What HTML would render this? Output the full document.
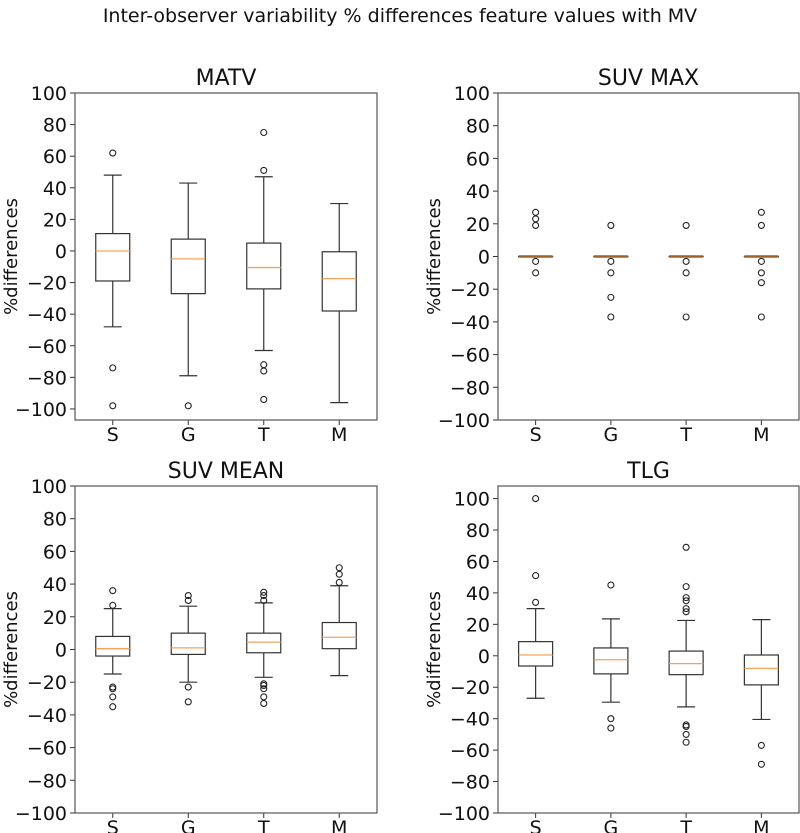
<!DOCTYPE html>
<html><head><meta charset="utf-8"><style>
body{margin:0;background:#fff}
svg{display:block;font-family:"DejaVu Sans","Liberation Sans",sans-serif}
</style></head><body>
<svg id="chart" width="800" height="833" viewBox="0 0 800 833" xmlns="http://www.w3.org/2000/svg">
<text x="400" y="22" font-size="19" text-anchor="middle" fill="#111">Inter-observer variability % differences feature values with MV</text>
</svg>
<script>
const categories = ["S","G","T","M"];
const panelTitles = ["MATV","SUV MAX","SUV MEAN","TLG"];
const yTicks = [100,80,60,40,20,0,-20,-40,-60,-80,-100];
// per panel: [q1, median, q3, whiskerLow, whiskerHigh] for S,G,T,M
const matvStats = [[-19,0,11,-48,48],[-27,-5,7.5,-79,43],[-24,-10.5,5,-63,47],[-38,-17.5,-0.5,-96,30]];
const matvFliers = [[62,-74,-98],[-98],[75,51,-72,-76,-94],[]];
const suvmaxStats = [[0,0,0,0,0],[0,0,0,0,0],[0,0,0,0,0],[0,0,0,0,0]];
const suvmaxFliers = [[27,23,19,-3,-10],[19,-3,-10,-25,-37],[19,-3,-10,-37],[27,19,-3,-10,-16,-37]];
const suvmeanStats = [[-4,0.5,8,-15,25],[-3,1,10,-20,26.5],[-2,4.5,10,-17,28.5],[0.5,7.5,16.5,-16,39]];
const suvmeanFliers = [[36,27,-23,-24,-29,-35],[33,30,-23,-32],[35,33,30,-21,-22,-24,-29,-33],[50,46,41]];
const tlgStats = [[-6.5,0.5,9,-27,30],[-11.5,-2.5,5,-29.5,23.5],[-12,-5,3,-32.5,22.5],[-18.5,-8,0.5,-40.5,23]];
const tlgFliers = [[100,51,34],[45,-40,-46],[69,44,37,35,30,28,-44,-45,-50,-55],[-57,-69]];
const allStats=[matvStats,suvmaxStats,suvmeanStats,tlgStats];
const allFliers=[matvFliers,suvmaxFliers,suvmeanFliers,tlgFliers];
const yLims=[[-107,100],[-100,100],[-100,100],[-100,108]];
const boxes=[[75,93,377,420],[498,93,799,420],[75,486,377,813],[498,486,799,813]];
const NS="http://www.w3.org/2000/svg";
const svg=document.getElementById('chart');
function mk(tag,attrs,parent){const e=document.createElementNS(NS,tag);for(const k in attrs)e.setAttribute(k,attrs[k]);(parent||svg).appendChild(e);return e;}
for(let p=0;p<4;p++){
  const [x0,y0,x1,y1]=boxes[p];const [lo,hi]=yLims[p];
  const g=mk('g',{});
  
  
  const yS=v=>y1-(v-lo)/(hi-lo)*(y1-y0);
  const xS=i=>x0+(i+0.5)*(x1-x0)/4;
  const t=mk('text',{x:(x0+x1)/2,y:y0-8,'font-size':22,'text-anchor':'middle',fill:'#111'},g);t.textContent=panelTitles[p];
  
  
  const yl=mk('text',{transform:`translate(${x0-58},${(y0+y1)/2}) rotate(-90)`,'font-size':18,'text-anchor':'middle',fill:'#111'},g);yl.textContent='%differences';
  
  
  yTicks.forEach(v=>{const y=yS(v);
    mk('line',{x1:x0-5,x2:x0,y1:y,y2:y,stroke:'#333','stroke-width':1},g);
    const tt=mk('text',{x:x0-8,y:y+7,'font-size':19,'text-anchor':'end',fill:'#111'},g);tt.textContent=(v<0?'\u2212'+(-v):v);
    
    
  });
  const stats=allStats[p],fl=allFliers[p];
  categories.forEach((c,i)=>{
    const cx=xS(i),hw=17,cw=12;const [q1,md,q3,wl,wh]=stats[i];
    mk('line',{x1:cx,x2:cx,y1:y1,y2:y1+5,stroke:'#333'},g);
    const xl=mk('text',{x:cx,y:y1+21,'font-size':19,'text-anchor':'middle',fill:'#111'},g);xl.textContent=c;
    
    
    const bg=mk('g',{},g);
    
    
    mk('line',{x1:cx,x2:cx,y1:yS(q3),y2:yS(wh),stroke:'#333','stroke-width':1.2},bg);
    mk('line',{x1:cx,x2:cx,y1:yS(q1),y2:yS(wl),stroke:'#333','stroke-width':1.2},bg);
    mk('line',{x1:cx-cw/2*1.5,x2:cx+cw/2*1.5,y1:yS(wh),y2:yS(wh),stroke:'#333','stroke-width':1.2},bg);
    mk('line',{x1:cx-cw/2*1.5,x2:cx+cw/2*1.5,y1:yS(wl),y2:yS(wl),stroke:'#333','stroke-width':1.2},bg);
    mk('rect',{x:cx-hw,y:yS(q3),width:2*hw,height:Math.max(0.1,yS(q1)-yS(q3)),fill:'none',stroke:'#333','stroke-width':1.2},bg);
    mk('line',{x1:cx-hw,x2:cx+hw,y1:yS(md),y2:yS(md),stroke:p==1?'#a0602a':'#f5a25d','stroke-width':p==1?2.5:1.3},bg);
    fl[i].forEach(v=>{mk('circle',{cx:cx,cy:yS(v),r:3,fill:'none',stroke:'#222','stroke-width':1.1},bg);});
  });
  const fr=mk('rect',{x:x0,y:y0,width:x1-x0,height:y1-y0,fill:'none',stroke:'#555','stroke-width':1.2},g);
  
  
}
</script>
</body></html>
